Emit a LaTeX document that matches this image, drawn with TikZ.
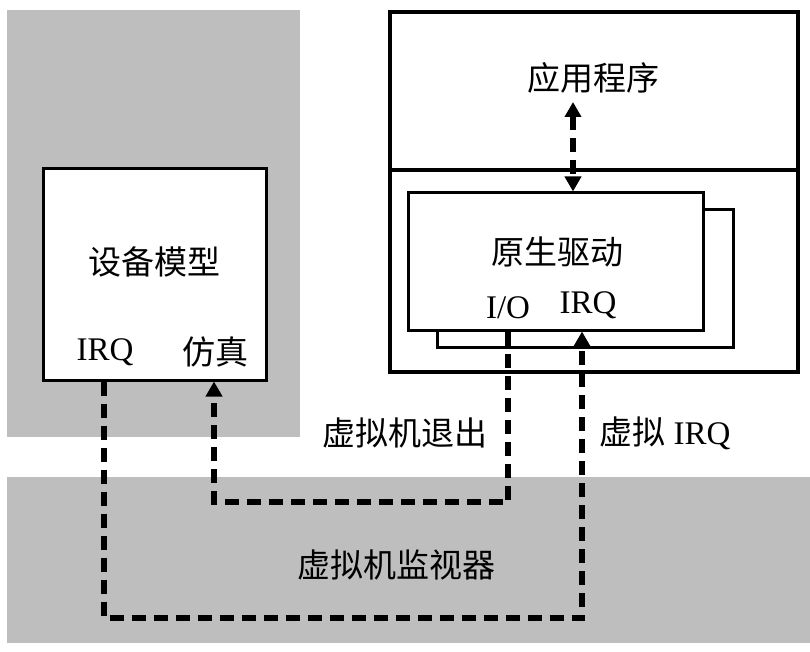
\documentclass[tikz,border=0pt]{standalone}
\usepackage{fontspec}
\setmainfont{Liberation Serif}
\newfontfamily\cjk{Noto Sans CJK SC}
\usetikzlibrary{arrows.meta}
\definecolor{panelgray}{RGB}{190,190,190}

\tikzset{
  box/.style={draw, line width=3pt, fill=white, inner sep=0pt},
  hostbox/.style={draw, line width=4.5pt, inner sep=0pt},
  lbl/.style={font=\fontsize{33}{38}\selectfont, inner sep=0pt},
  vmline/.style={line width=5.5pt, dash pattern=on 14pt off 8pt},
  tip/.style={-{Triangle[length=15pt,width=16pt]}},
  tips/.style={{Triangle[length=15pt,width=16pt]}-{Triangle[length=15pt,width=16pt]}},
}

\begin{document}
\begin{tikzpicture}[x=1pt,y=-1pt]
  \useasboundingbox (0,0) rectangle (810,652);

  \fill[panelgray] (7,10) rectangle (300,437);% guest side
  \fill[panelgray] (7,477) rectangle (810,643);% hypervisor

  % device model
  \node[box, minimum width=223pt, minimum height=211pt] (dev) at (154.5,274.5) {};
  \node[lbl] (devlbl) at (154,262) {\cjk 设备模型};
  \node[lbl] (devirq) at (105,352) {IRQ};
  \node[lbl] (sim) at (215,352) {\cjk 仿真};

  % host side
  \node[hostbox, minimum width=408pt, minimum height=158pt] (app) at (594,91) {};
  \node[hostbox, minimum width=408pt, minimum height=202pt] (host) at (594,271) {};
  \node[lbl] (applbl) at (593,78) {\cjk 应用程序};

  \node[box, minimum width=296pt, minimum height=137pt] (shadow) at (585,278.5) {};
  \node[box, minimum width=295pt, minimum height=137pt] (drv) at (555.5,261.5) {};
  \node[lbl] (drvlbl) at (557,252) {\cjk 原生驱动};
  \node[lbl] (io) at (508,308) {I/O};
  \node[lbl] (drvirq) at (588,305) {IRQ};

  \node[lbl] (exitlbl) at (405,433) {\cjk 虚拟机退出};
  \node[lbl] (virqlbl) at (665,433) {{\cjk 虚拟} IRQ};
  \node[lbl] (hvlbl) at (396,565) {\cjk 虚拟机监视器};

  % connectors
  \coordinate (apptop) at (573,102);
  \coordinate (exitbend) at (360,502);
  \coordinate (irqbend) at (340,618);
  \coordinate (irqin) at (582,0);
  \coordinate (simin) at (214,0);
  \coordinate (irqout) at (104,0);

  \draw[vmline, tips] (apptop) -- (apptop |- drv.north);
  \draw[vmline, tip] (io |- drv.south) |- (exitbend) -| (simin |- dev.south);
  \draw[vmline, tip] (irqout |- dev.south) |- (irqbend) -| (irqin |- drv.south);
\end{tikzpicture}
\end{document}
